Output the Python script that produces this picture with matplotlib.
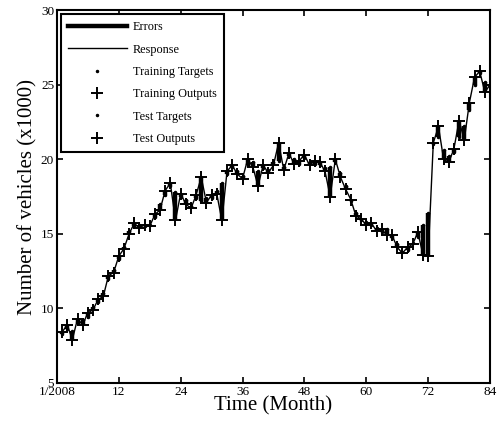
import numpy as np
import matplotlib
matplotlib.use("Agg")
import matplotlib.pyplot as plt

plt.rcParams['font.family'] = ['Liberation Serif', 'DejaVu Serif']

months = list(range(1, 85))
targets = [8.3, 8.6, 8.5, 9.0, 9.2, 9.4, 10.1, 10.4, 11.0, 12.0,
           12.6, 13.3, 14.1, 15.2, 15.5, 15.6, 15.5, 15.6, 16.1, 17.0,
           17.6, 18.2, 17.8, 17.5, 17.3, 16.9, 17.4, 17.2, 17.4, 17.4,
           17.9, 18.4, 19.0, 19.5, 19.2, 18.9, 19.6, 19.8, 19.2, 19.4,
           19.3, 19.8, 19.9, 19.5, 20.2, 20.0, 19.7, 20.1, 19.8, 19.7,
           19.6, 19.4, 19.5, 19.8, 19.1, 18.2, 17.2, 16.4, 15.9, 15.8,
           15.6, 15.4, 15.1, 15.3, 14.7, 14.3, 13.8, 13.9, 14.4, 14.8,
           15.6, 16.4, 21.0, 21.5, 20.6, 20.2, 20.5, 21.5, 22.2, 23.3,
           25.0, 25.8, 25.2, 24.9]
outputs = [8.4, 8.9, 7.9, 9.3, 8.9, 9.7, 9.9, 10.6, 10.8, 12.2,
           12.4, 13.5, 14.0, 15.0, 15.7, 15.4, 15.6, 15.5, 16.3, 16.6,
           17.9, 18.4, 15.9, 17.7, 17.0, 16.7, 17.6, 18.8, 17.1, 17.6,
           17.7, 15.9, 19.2, 19.6, 19.0, 18.7, 20.0, 19.5, 18.2, 19.6,
           19.1, 19.6, 21.1, 19.3, 20.4, 19.7, 19.9, 20.3, 19.6, 19.9,
           19.8, 19.2, 17.5, 20.0, 18.8, 18.0, 17.3, 16.2, 16.0, 15.6,
           15.7, 15.2, 15.3, 14.9, 14.9, 14.1, 13.7, 14.1, 14.3, 15.1,
           13.6, 13.5, 21.1, 22.2, 20.0, 19.8, 20.7, 22.6, 21.3, 23.8,
           25.5, 25.9, 24.5, 25.0]
test_months = [6, 13, 20, 27, 34, 41, 48, 55, 62, 69, 76, 83]

x_ticks = [0, 12, 24, 36, 48, 60, 72, 84]
x_labels = ['1/2008', '12', '24', '36', '48', '60', '72', '84']
y_ticks = [5, 10, 15, 20, 25, 30]

m = np.array(months)
t = np.array(targets)
y = np.array(outputs)
is_test = np.isin(m, test_months)

fig = plt.figure(figsize=(4.99, 4.25), dpi=100)
ax = fig.add_axes([0.114, 0.099, 0.868, 0.877])

# errors as thick vertical bars between target and output
for xi, ti, yi in zip(m, t, y):
    ax.plot([xi, xi], [ti, yi], color='black', lw=3.2, solid_capstyle='butt')
ax.plot([], [], color='black', lw=3.2, label='Errors')
ax.plot(m, y, color='black', lw=1, label='Response')
ax.plot(m[~is_test], t[~is_test], '.', color='black', ms=3, label='Training Targets')
ax.plot(m[~is_test], y[~is_test], '+', color='black', ms=8, mew=1.4, label='Training Outputs')
ax.plot(m[is_test], t[is_test], '.', color='black', ms=3, label='Test Targets')
ax.plot(m[is_test], y[is_test], '+', color='black', ms=8, mew=1.4, label='Test Outputs')

ax.set_xlim(0, 84)
ax.set_ylim(5, 30)
ax.set_xticks(x_ticks)
ax.set_xticklabels(x_labels)
ax.set_yticks(y_ticks)
ax.tick_params(direction='in', top=True, right=True, length=4, width=1.2, labelsize=9.5, pad=2)
for s in ax.spines.values():
    s.set_linewidth(1.5)

ax.set_xlabel('Time (Month)', fontsize=15, labelpad=-1)
ax.set_ylabel('Number of vehicles (x1000)', fontsize=15, labelpad=2)

leg = ax.legend(loc='upper left', fontsize=8.8, frameon=True, fancybox=False,
                edgecolor='black', framealpha=1, handlelength=4.8,
                handletextpad=0.5, borderpad=0.6,
                borderaxespad=0.3, labelspacing=0.85)
leg.get_frame().set_linewidth(1.5)

fig.savefig('out.png', dpi=100)
